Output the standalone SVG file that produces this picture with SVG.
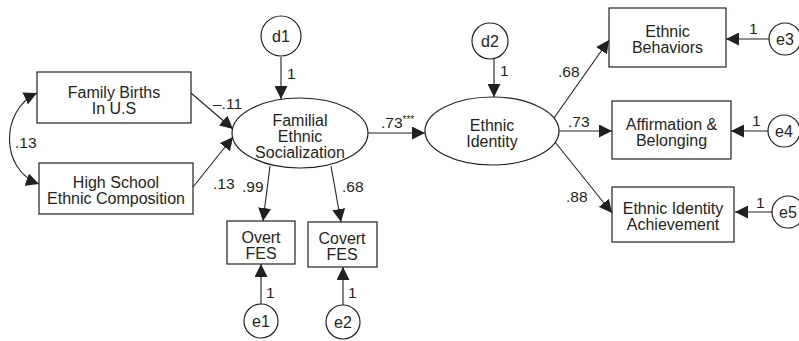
<svg xmlns="http://www.w3.org/2000/svg" width="799" height="341" viewBox="0 0 799 341">
<defs>
<marker id="ah" markerUnits="userSpaceOnUse" markerWidth="14" markerHeight="13" refX="13" refY="6.5" orient="auto-start-reverse">
<path d="M0,0 L13,6.5 L0,13 z" fill="#231f20"/>
</marker>
<style>
.n{fill:#fff;stroke:#231f20;stroke-width:1.2}
.t{font-family:"Liberation Sans",Arial,sans-serif;font-size:16px;fill:#231f20;text-anchor:middle}
.l{font-family:"Liberation Sans",Arial,sans-serif;font-size:15.5px;fill:#231f20}
.c{fill:none;stroke:#231f20;stroke-width:1.1;marker-end:url(#ah)}
</style>
</defs>
<rect width="799" height="341" fill="#fff"/>
<g id="connectors">
<path class="c" d="M37,93 C0,110 0,170 39,184" style="marker-start:url(#ah)"/>
<line class="c" x1="191" y1="93" x2="233" y2="129"/>
<line class="c" x1="193" y1="187" x2="233" y2="137"/>
<line class="c" x1="281" y1="57" x2="281" y2="99"/>
<line class="c" x1="270" y1="166" x2="263" y2="221"/>
<line class="c" x1="331" y1="166" x2="341" y2="222"/>
<line class="c" x1="261" y1="304" x2="261" y2="264"/>
<line class="c" x1="343" y1="305" x2="343" y2="267"/>
<line class="c" x1="368" y1="133" x2="425" y2="133"/>
<line class="c" x1="494" y1="59" x2="494" y2="97"/>
<line class="c" x1="554" y1="118" x2="609" y2="40"/>
<line class="c" x1="559" y1="131" x2="612" y2="131"/>
<line class="c" x1="555" y1="142" x2="612" y2="213"/>
<line class="c" x1="769" y1="39" x2="726" y2="39"/>
<line class="c" x1="768" y1="131" x2="731" y2="131"/>
<line class="c" x1="772" y1="212" x2="735" y2="212"/>
<text class="l" x="15" y="148">.13</text>
<text class="l" x="213" y="109">–.11</text>
<text class="l" x="213" y="189">.13</text>
<text class="l" x="287" y="79">1</text>
<text class="l" x="242" y="192">.99</text>
<text class="l" x="342" y="192">.68</text>
<text class="l" x="266" y="298">1</text>
<text class="l" x="348" y="298">1</text>
<text class="l" x="381" y="128">.73<tspan font-size="10" dy="-5">***</tspan></text>
<text class="l" x="500" y="76">1</text>
<text class="l" x="558" y="77">.68</text>
<text class="l" x="568" y="127">.73</text>
<text class="l" x="566" y="202">.88</text>
<text class="l" x="749" y="34">1</text>
<text class="l" x="752" y="126">1</text>
<text class="l" x="756" y="208">1</text>
</g>
<g id="family-births"><rect class="n" x="37" y="72" width="154" height="51"/><text class="t" x="114" y="98">Family Births</text><text class="t" x="114" y="114">In U.S</text></g>
<g id="high-school"><rect class="n" x="39" y="163" width="154" height="51"/><text class="t" x="116" y="188">High School</text><text class="t" x="116" y="204">Ethnic Composition</text></g>
<g id="d1"><circle class="n" cx="281" cy="36" r="20"/><text class="t" x="281" y="42">d1</text></g>
<g id="fes"><ellipse class="n" cx="300" cy="133" rx="68" ry="35"/><text class="t" x="300" y="126">Familial</text><text class="t" x="300" y="142">Ethnic</text><text class="t" x="300" y="158">Socialization</text></g>
<g id="overt"><rect class="n" x="227" y="221" width="68" height="43"/><text class="t" x="261" y="243">Overt</text><text class="t" x="261" y="259">FES</text></g>
<g id="covert"><rect class="n" x="308" y="222" width="69" height="45"/><text class="t" x="342" y="244">Covert</text><text class="t" x="342" y="260">FES</text></g>
<g id="e1"><circle class="n" cx="261" cy="321" r="17"/><text class="t" x="261" y="327">e1</text></g>
<g id="e2"><circle class="n" cx="343" cy="322" r="17"/><text class="t" x="343" y="328">e2</text></g>
<g id="d2"><circle class="n" cx="490" cy="41" r="18"/><text class="t" x="490" y="47">d2</text></g>
<g id="ethnic-identity"><ellipse class="n" cx="492" cy="131" rx="67" ry="34"/><text class="t" x="492" y="131">Ethnic</text><text class="t" x="492" y="147">Identity</text></g>
<g id="ethnic-behaviors"><rect class="n" x="609" y="8" width="117" height="59"/><text class="t" x="667.5" y="37">Ethnic</text><text class="t" x="667.5" y="53">Behaviors</text></g>
<g id="affirmation"><rect class="n" x="612" y="101" width="119" height="58"/><text class="t" x="671.5" y="130">Affirmation &amp;</text><text class="t" x="671.5" y="146">Belonging</text></g>
<g id="achievement"><rect class="n" x="612" y="187" width="122" height="55"/><text class="t" x="673" y="214">Ethnic Identity</text><text class="t" x="673" y="230">Achievement</text></g>
<g id="e3"><circle class="n" cx="785" cy="39" r="16"/><text class="t" x="785" y="45">e3</text></g>
<g id="e4"><circle class="n" cx="784" cy="131" r="16"/><text class="t" x="784" y="137">e4</text></g>
<g id="e5"><circle class="n" cx="788" cy="212" r="16"/><text class="t" x="788" y="218">e5</text></g>
</svg>
